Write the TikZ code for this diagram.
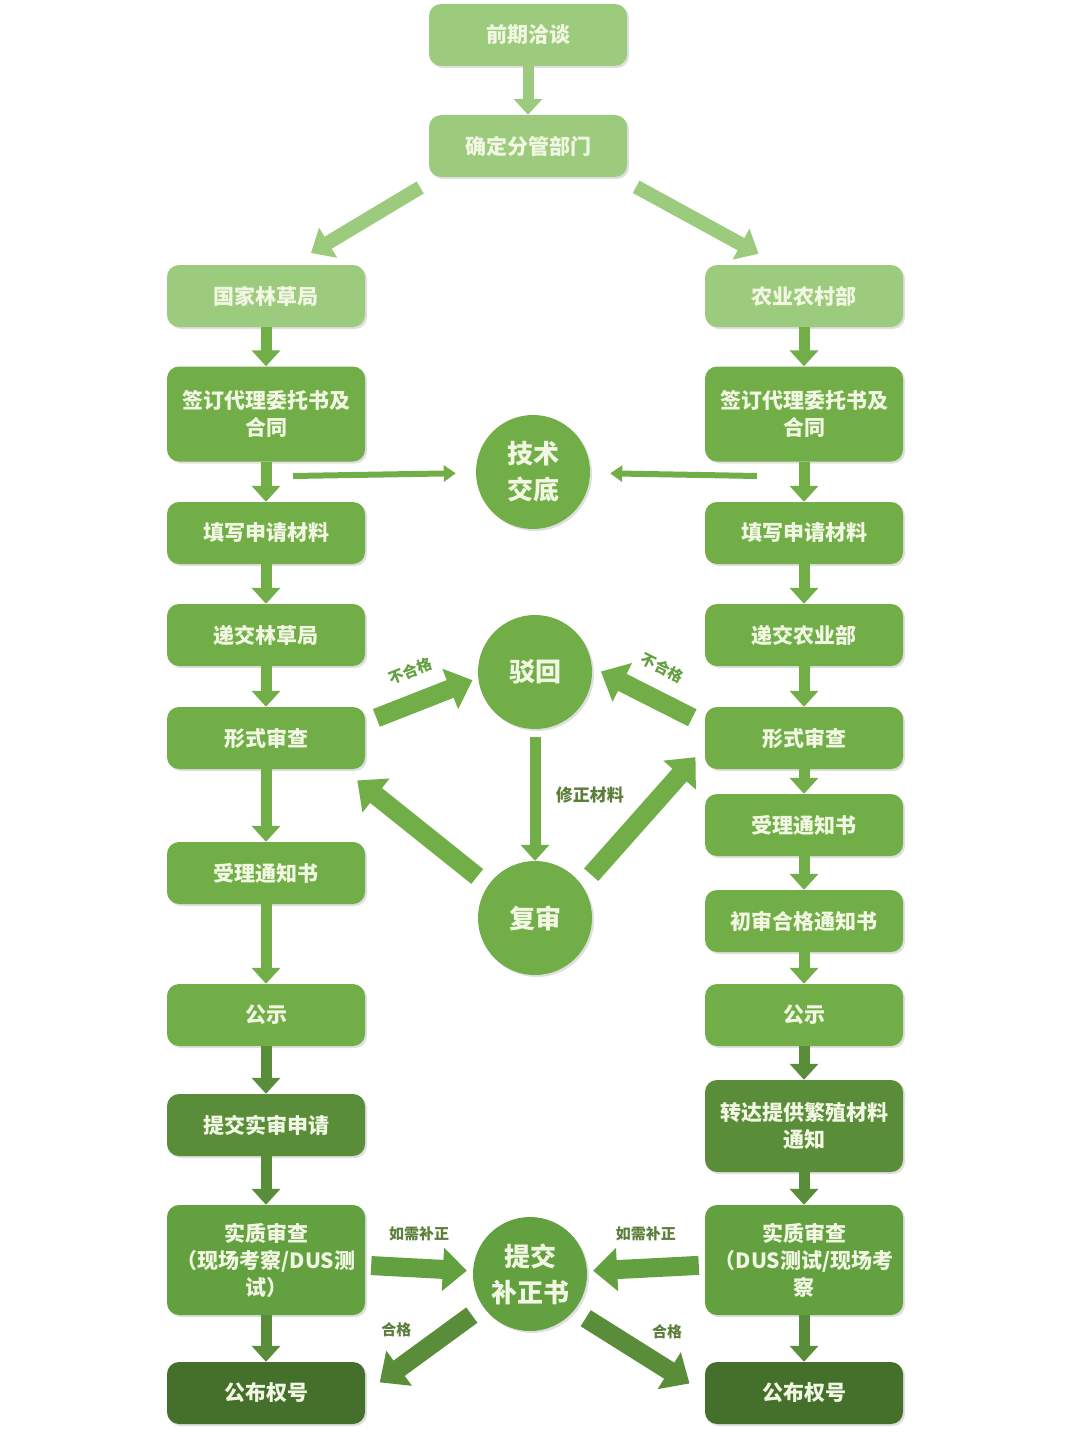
\documentclass[tikz,border=0pt]{standalone}
\usepackage{fontspec}
\setmainfont{Noto Sans CJK SC}
\usetikzlibrary{arrows.meta,shadows}

\definecolor{lightgreen}{HTML}{9DCB7D}
\definecolor{midgreen}{HTML}{72AE48}
\definecolor{deepgreen}{HTML}{63A03F}
\definecolor{darkgreen}{HTML}{5A8D39}
\definecolor{darkestgreen}{HTML}{44702B}
\definecolor{boxtext}{HTML}{F1F7E2}
\definecolor{labeltext}{HTML}{5B7F3B}

\tikzset{
    box/.style={rounded corners=12pt, minimum width=198pt, minimum height=62pt, align=center,
        text=boxtext, font=\fontsize{21}{27}\selectfont\bfseries,
        drop shadow={opacity=0.25, shadow xshift=2pt, shadow yshift=-2pt}},
    circ/.style={circle, minimum size=114pt, inner sep=0pt, align=center,
        text=boxtext, font=\fontsize{26}{36}\selectfont\bfseries,
        drop shadow={opacity=0.25, shadow xshift=2pt, shadow yshift=-2pt}},
    varr/.style={-{Triangle[width=28pt,length=16pt]}, line width=11pt},
    diagarr/.style={-{Triangle[width=34pt,length=20pt]}, line width=14pt},
    thinarr/.style={-{Triangle[width=16pt,length=12pt]}, line width=6pt},
    bigarr/.style={-{Triangle[width=42pt,length=24pt]}, line width=19pt},
    lbl/.style={text=labeltext, font=\fontsize{15}{17}\selectfont\bfseries}
}

\begin{document}
\begin{tikzpicture}[x=1pt,y=-1pt]
    \fill[white] (0,0) rectangle (1080,1434);
    \useasboundingbox (0,0) rectangle (1080,1434);
    %top
    \node[box,fill=lightgreen] (qiatan) at (528,35) {前期洽谈};
    \node[box,fill=lightgreen] (fenguan) at (528,146) {确定分管部门};
    %left column
    \node[box,fill=lightgreen] (linju) at (266,296) {国家林草局};
    \node[box,fill=midgreen,minimum height=95pt] (lqian) at (266,414) {签订代理委托书及\\合同};
    \node[box,fill=midgreen] (ltian) at (266,533) {填写申请材料};
    \node[box,fill=midgreen] (ldi) at (266,635) {递交林草局};
    \node[box,fill=midgreen] (lxs) at (266,738) {形式审查};
    \node[box,fill=midgreen] (lsl) at (266,873) {受理通知书};
    \node[box,fill=midgreen] (lgs) at (266,1015) {公示};
    \node[box,fill=darkgreen] (ltj) at (266,1125) {提交实审申请};
    \node[box,fill=deepgreen,minimum height=110pt] (lsz) at (266,1260) {实质审查\\（现场考察/DUS测\\试）};
    \node[box,fill=darkestgreen] (lgb) at (266,1393) {公布权号};
    %right column
    \node[box,fill=lightgreen] (nongye) at (804,296) {农业农村部};
    \node[box,fill=midgreen,minimum height=95pt] (rqian) at (804,414) {签订代理委托书及\\合同};
    \node[box,fill=midgreen] (rtian) at (804,533) {填写申请材料};
    \node[box,fill=midgreen] (rdi) at (804,635) {递交农业部};
    \node[box,fill=midgreen] (rxs) at (804,738) {形式审查};
    \node[box,fill=midgreen] (rsl) at (804,825) {受理通知书};
    \node[box,fill=midgreen] (rchu) at (804,921) {初审合格通知书};
    \node[box,fill=midgreen] (rgs) at (804,1015) {公示};
    \node[box,fill=darkgreen,minimum height=92pt] (rzd) at (804,1126) {转达提供繁殖材料\\通知};
    \node[box,fill=deepgreen,minimum height=110pt] (rsz) at (804,1260) {实质审查\\（DUS测试/现场考\\察};
    \node[box,fill=darkestgreen] (rgb) at (804,1393) {公布权号};
    %middle
    \node[circ,fill=midgreen] (jishu) at (533,472) {技术\\交底};
    \node[circ,fill=midgreen] (bohui) at (535,672) {驳回};
    \node[circ,fill=midgreen] (fushen) at (535,918) {复审};
    \node[circ,fill=deepgreen] (buzheng) at (530,1274) {提交\\补正书};
    \coordinate (ljs) at (293,476);
    \coordinate (rjs) at (757,476);

    %draw column arrows
    \foreach \a/\b/\c in {qiatan/fenguan/lightgreen,
        linju/lqian/midgreen, lqian/ltian/midgreen, ltian/ldi/midgreen, ldi/lxs/midgreen,
        lxs/lsl/midgreen, lsl/lgs/midgreen, lgs/ltj/darkgreen, ltj/lsz/darkgreen, lsz/lgb/darkgreen,
        nongye/rqian/midgreen, rqian/rtian/midgreen, rtian/rdi/midgreen, rdi/rxs/midgreen,
        rxs/rsl/midgreen, rsl/rchu/midgreen, rchu/rgs/midgreen, rgs/rzd/darkgreen,
        rzd/rsz/darkgreen, rsz/rgb/darkgreen}
        {%
            \draw[varr,draw=\c] (\a) -- (\b);
        }
    %draw split arrows
    \draw[diagarr,draw=lightgreen,shorten <=20pt,shorten >=23pt] (fenguan.199) -- (linju.51);
    \draw[diagarr,draw=lightgreen,shorten <=20pt,shorten >=23pt] (fenguan.-19) -- (nongye.129);
    \draw[thinarr,draw=midgreen,shorten >=20pt] (ljs) -- (jishu);
    \draw[thinarr,draw=midgreen,shorten >=20pt] (rjs) -- (jishu);
    %draw middle arrows
    \draw[bigarr,draw=midgreen,shorten <=12pt,shorten >=6pt] (lxs.9) -- (bohui.186)
        node[midway,above=11pt,sloped,lbl,text=deepgreen] {不合格};
    \draw[bigarr,draw=midgreen,shorten <=14pt,shorten >=10pt] (rxs.172) -- (bohui.5)
        node[midway,above=11pt,sloped,lbl,text=deepgreen] {不合格};
    \draw[varr,draw=midgreen,shorten <=8pt] (bohui) -- (fushen)
        node[midway,right=12pt,lbl,font=\fontsize{17}{19}\selectfont\bfseries] {修正材料};
    \draw[bigarr,draw=midgreen,shorten <=14pt,shorten >=18pt] (fushen.145) -- (lxs.-22);
    \draw[bigarr,draw=midgreen,shorten <=14pt,shorten >=14pt] (fushen.35) -- (rxs.185);
    %draw bottom arrows
    \draw[bigarr,draw=deepgreen,shorten <=6pt,shorten >=6pt] (lsz) -- (buzheng)
        node[midway,above=14pt,lbl] {如需补正};
    \draw[bigarr,draw=deepgreen,shorten <=6pt,shorten >=6pt] (rsz) -- (buzheng)
        node[midway,above=14pt,lbl] {如需补正};
    \draw[bigarr,draw=darkgreen,shorten <=14pt,shorten >=18pt] (buzheng.215) -- (lgb.east)
        node[midway,above left,lbl] {合格};
    \draw[bigarr,draw=darkgreen,shorten <=14pt,shorten >=18pt] (buzheng.-40) -- (rgb.west)
        node[midway,above right,lbl] {合格};
\end{tikzpicture}
\end{document}
